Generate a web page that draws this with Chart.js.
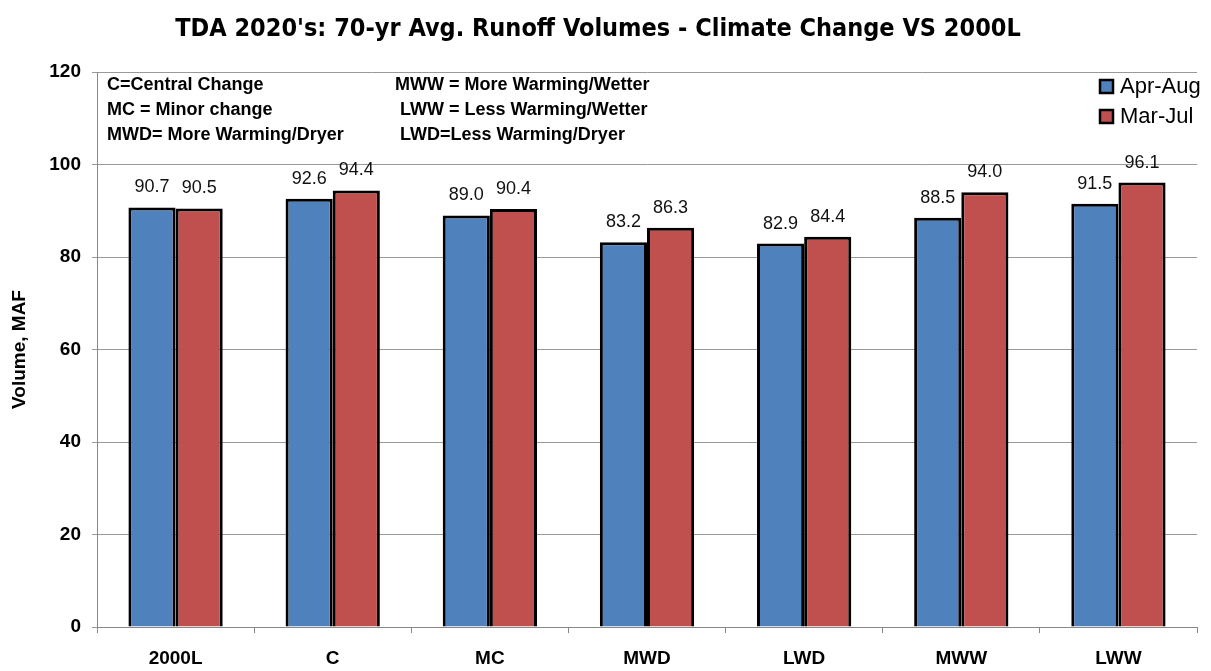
<!DOCTYPE html>
<html>
<head>
<meta charset="utf-8">
<script src="https://cdn.jsdelivr.net/npm/chart.js@4"></script>
<style>
html,body{margin:0;padding:0;background:#fff;}
#wrap{width:1211px;height:671px;position:relative;}
</style>
</head>
<body>
<div id="wrap"><canvas id="c" width="1211" height="671"></canvas></div>
<script>
const categories = ['2000L', 'C', 'MC', 'MWD', 'LWD', 'MWW', 'LWW'];
const aprAug = [90.7, 92.6, 89.0, 83.2, 82.9, 88.5, 91.5];
const marJul = [90.5, 94.4, 90.4, 86.3, 84.4, 94.0, 96.1];
const seriesNames = ['Apr-Aug', 'Mar-Jul'];
const seriesColors = ['#4F81BD', '#C0504D'];
const yTicks = [0, 20, 40, 60, 80, 100, 120];
const titleText = "TDA 2020's: 70-yr Avg. Runoff Volumes - Climate Change VS 2000L";
const notesLeft = ['C=Central Change', 'MC = Minor change', 'MWD= More Warming/Dryer'];
const notesRight = ['MWW = More Warming/Wetter', ' LWW = Less Warming/Wetter', ' LWD=Less Warming/Dryer'];

const overlay = {
  id: 'overlay',
  afterDatasetsDraw(chart) {
    const ctx = chart.ctx;
    ctx.save();
    // value labels
    ctx.font = '18px "Liberation Sans", Arial, sans-serif';
    ctx.fillStyle = '#111';
    ctx.textAlign = 'center';
    ctx.textBaseline = 'bottom';
    chart.data.datasets.forEach((ds, di) => {
      const meta = chart.getDatasetMeta(di);
      meta.data.forEach((bar, i) => {
        ctx.fillText(ds.data[i].toFixed(1), bar.x, bar.y - 11);
      });
    });
    // title
    ctx.font = 'bold 25px "DejaVu Sans Condensed", sans-serif';
    ctx.fillStyle = '#000';
    ctx.textBaseline = 'middle';
    ctx.fillText(titleText, 598, 29);
    // notes
    ctx.font = 'bold 18px "Liberation Sans", Arial, sans-serif';
    ctx.textAlign = 'left';
    const ys = [85, 110, 135];
    notesLeft.forEach((t, i) => ctx.fillText(t, 107, ys[i]));
    notesRight.forEach((t, i) => ctx.fillText(t, 395, ys[i]));
    // legend
    ctx.font = '22px "Liberation Sans", Arial, sans-serif';
    const ly = [86, 116];
    seriesNames.forEach((n, i) => {
      ctx.fillStyle = seriesColors[i];
      ctx.fillRect(1100, ly[i] - 6, 13, 13);
      ctx.strokeStyle = '#000';
      ctx.lineWidth = 2.5;
      ctx.strokeRect(1100, ly[i] - 6, 13, 13);
      ctx.fillStyle = '#000';
      ctx.fillText(n, 1120, ly[i] + 1);
    });
    ctx.restore();
  }
};

const bgPlugin = {
  id: 'bg',
  beforeDraw(chart) {
    const ctx = chart.ctx;
    ctx.save();
    ctx.fillStyle = '#fff';
    ctx.fillRect(0, 0, chart.width, chart.height);
    ctx.restore();
  }
};

new Chart(document.getElementById('c'), {
  type: 'bar',
  data: {
    labels: categories,
    datasets: [
      { label: seriesNames[0], data: aprAug, backgroundColor: seriesColors[0], borderColor: '#000', borderWidth: 3, categoryPercentage: 0.6, barPercentage: 1.0 },
      { label: seriesNames[1], data: marJul, backgroundColor: seriesColors[1], borderColor: '#000', borderWidth: 3, categoryPercentage: 0.6, barPercentage: 1.0 }
    ]
  },
  options: {
    responsive: false,
    animation: false,
    devicePixelRatio: 1,
    layout: { padding: { top: 72, right: 14, bottom: 0, left: 4 } },
    plugins: {
      legend: { display: false },
      title: { display: false },
      tooltip: { enabled: false }
    },
    scales: {
      x: {
        offset: true,
        grid: { display: true, drawOnChartArea: false, offset: true, tickLength: 6, color: '#888' },
        border: { color: '#888', width: 1 },
        ticks: { color: '#000', font: { family: '"Liberation Sans", Arial, sans-serif', size: 19, weight: 'bold' }, padding: 14, maxRotation: 0 },
        afterFit(s) { s.height = 44; }
      },
      y: {
        min: 0, max: 120,
        afterBuildTicks(s) { s.ticks = yTicks.map(v => ({ value: v })); },
        grid: { color: '#999', tickLength: 5 },
        border: { color: '#888', width: 1 },
        ticks: { color: '#000', font: { family: '"Liberation Sans", Arial, sans-serif', size: 19, weight: 'bold' }, padding: 11 },
        title: { display: true, text: 'Volume, MAF', color: '#000', font: { family: '"Liberation Sans", Arial, sans-serif', size: 19, weight: 'bold' } },
        afterFit(s) { s.width = 93; }
      }
    }
  },
  plugins: [bgPlugin, overlay]
});
</script>
</body>
</html>
